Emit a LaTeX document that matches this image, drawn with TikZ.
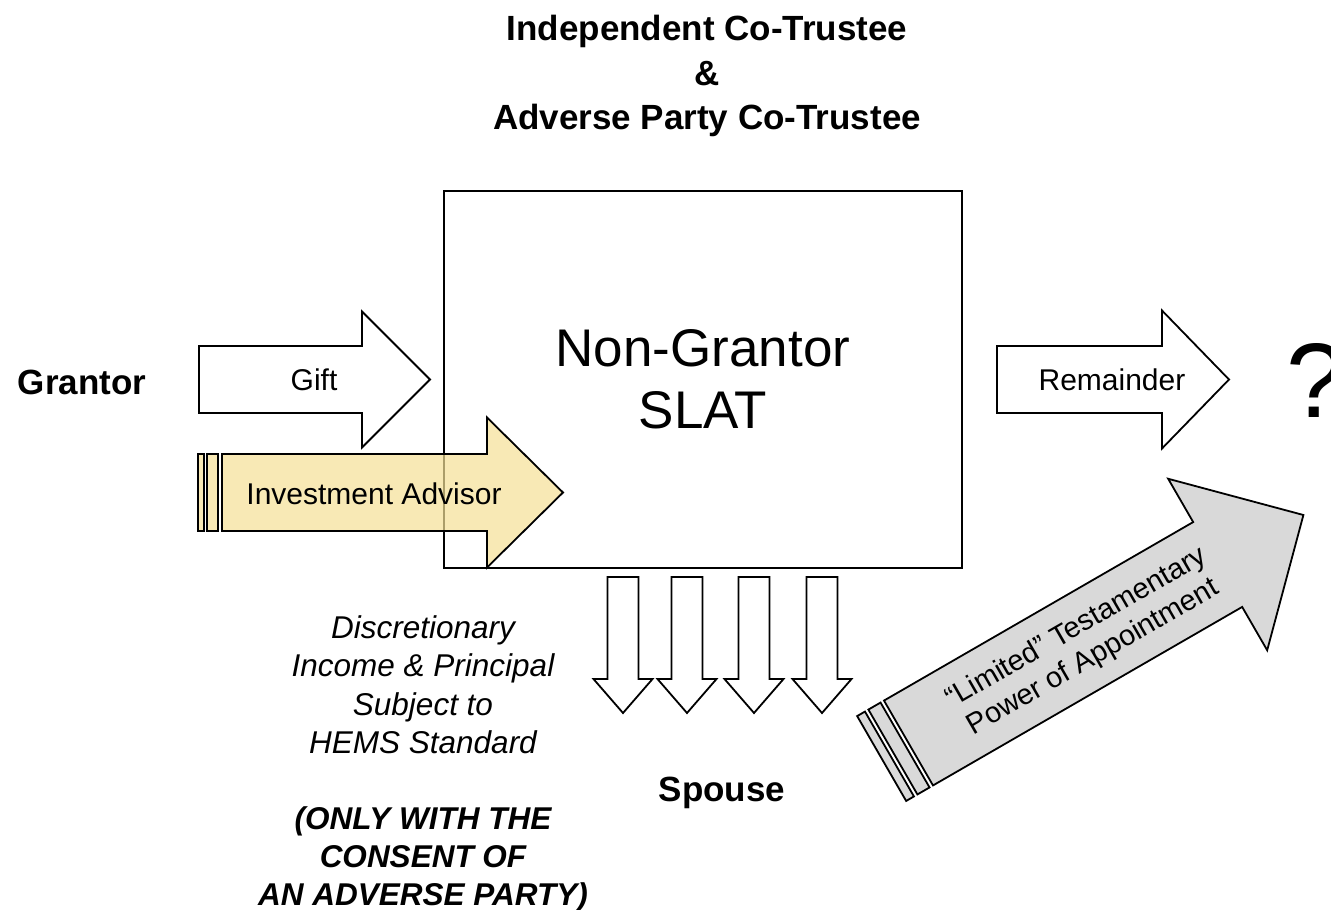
\documentclass[tikz,border=0pt]{standalone}
\usepackage{fontspec}
\setmainfont{Liberation Sans}
\usepackage{tikz}
\usetikzlibrary{positioning}
\usepackage{xcolor}

\definecolor{advisorfill}{RGB}{245,224,150}
\definecolor{poafill}{RGB}{217,217,217}

% fat block arrow: [style]{tail centre}{angle}{length}{body half-width}{head half-width}{head length}
\newcommand{\blockarrow}[7][]{%
  \draw[#1,shift={#2},rotate=#3]
    (0,-#5) -- ({#4-#7},-#5) -- ({#4-#7},-#6) -- (#4,0)
    -- ({#4-#7},#6) -- ({#4-#7},#5) -- (0,#5) -- cycle;}
% thin band behind an arrow tail: [style]{tail centre}{angle}{from}{to}{half-width}
\newcommand{\tailband}[6][]{%
  \draw[#1,shift={#2},rotate=#3] (#4,-#6) rectangle (#5,#6);}

\begin{document}
\begin{tikzpicture}[x=1pt,y=-1pt,
  outline/.style={draw=black,line width=1.8pt,line join=miter},
  plainarrow/.style={outline,fill=white},
  advisorarrow/.style={outline,fill=advisorfill,fill opacity=.7},
  poaarrow/.style={outline,fill=poafill},
  bigbold/.style={font=\fontsize{35}{44.5}\selectfont\bfseries,align=center},
  arrowtext/.style={font=\fontsize{30}{36}\selectfont}]
\useasboundingbox (0,0) rectangle (1331,910);

% the trust
\node[outline,minimum width=518pt,minimum height=377pt,align=center,
  font=\fontsize{53}{62}\selectfont] (slat) at (703,379.5) {Non-Grantor\\SLAT};

\node[bigbold] (trustees) at (707,76) {Independent Co-Trustee\\\&\\Adverse Party Co-Trustee};
\node[bigbold] (grantor) at (82,382) {Grantor};
\node[bigbold] (spouse) at (722,793) {Spouse};

% gift in, remainder out
\blockarrow[plainarrow]{(199,379.5)}{0}{231}{33.5}{68}{68}
\node[arrowtext] (gift) at (314,380) {Gift};
\blockarrow[plainarrow]{(997,379.5)}{0}{232}{33.5}{69}{67}
\node[arrowtext] (remainder) at (1112,380) {Remainder};
\node[font=\fontsize{106}{110}\selectfont,anchor=base west,inner sep=0pt] (unknown) at (1286,417) {?};

% investment advisor
\tailband[advisorarrow]{(222,492.5)}{0}{-24}{-18}{38.5}
\tailband[advisorarrow]{(222,492.5)}{0}{-15}{-4}{38.5}
\blockarrow[advisorarrow]{(222,492.5)}{0}{341}{38.5}{75}{76}
\node[arrowtext] (advisor) at (374,494) {Investment Advisor};

% distributions to the spouse
\foreach \cx in {623,687,754,822}
  \blockarrow[plainarrow]{(\cx,577)}{-90}{136}{15.5}{29.5}{34};

\node[font=\fontsize{31.5}{38.1}\selectfont\itshape,align=center] (hems) at (423,764)
  {Discretionary\\Income \& Principal\\Subject to\\HEMS Standard\\[38.1pt]
   \bfseries(ONLY WITH THE\\\bfseries CONSENT OF\\\bfseries AN ADVERSE PARTY)};

% power of appointment
\tailband[poaarrow]{(908.5,743)}{30}{-31}{-22}{49}
\tailband[poaarrow]{(908.5,743)}{30}{-18}{-4}{49}
\blockarrow[poaarrow]{(908.5,743)}{30}{456}{49}{99}{99}
\node[font=\fontsize{29}{34}\selectfont,align=center,rotate=30] (poa) at (1085,643)
  {``Limited'' Testamentary\\Power of Appointment};
\end{tikzpicture}
\end{document}
